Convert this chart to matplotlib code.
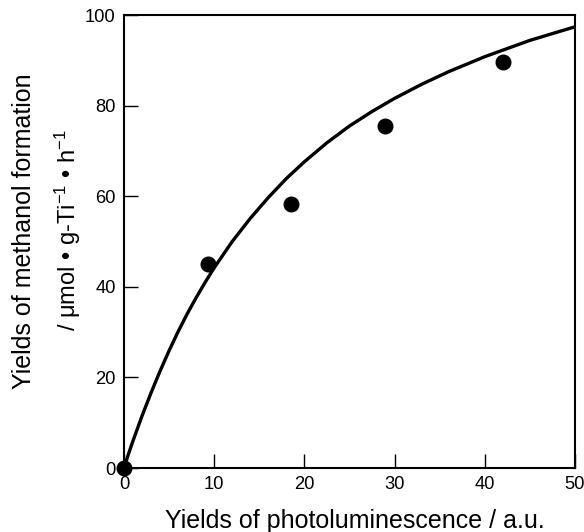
import numpy as np
import matplotlib
matplotlib.use("Agg")
from matplotlib import pyplot as plt

plt.rcParams["font.family"] = ["Liberation Sans", "DejaVu Sans"]
plt.rcParams["mathtext.fontset"] = "custom"
plt.rcParams["mathtext.rm"] = "Liberation Sans"
plt.rcParams["mathtext.it"] = "Liberation Sans:italic"

# measured points
pl_x = [0.0, 9.35, 18.5, 28.9, 42.0]
meoh_y = [0.0, 45.0, 58.2, 75.4, 89.6]

# fitted curve
curve_x = [0.0, 0.5, 1.0, 2.0, 3.0, 4.0, 5.0, 6.0, 7.0, 8.0, 9.0, 10.0, 12.0, 14.0,
           16.0, 18.0, 20.0, 22.5, 25.0, 27.5, 30.0, 33.0, 36.0, 40.0, 45.0, 50.0]
curve_y = [0.0, 3.1, 6.0, 11.5, 16.6, 21.4, 25.9, 30.1, 34.0, 37.6, 41.0, 44.2, 50.0, 55.1,
           59.7, 63.9, 67.6, 71.8, 75.5, 78.7, 81.6, 84.7, 87.5, 90.8, 94.4, 97.4]

fig = plt.figure(figsize=(5.84, 5.32), dpi=100)
ax = fig.add_axes([0.2123, 0.1203, 0.7723, 0.8515])

ax.plot(curve_x, curve_y, color="black", lw=2.4, solid_joinstyle="round",
        solid_capstyle="round", zorder=2)
ax.plot(pl_x, meoh_y, "o", color="black", ms=10.5, clip_on=False, zorder=3)

ax.set_xlim(0, 50)
ax.set_ylim(0, 100)
ax.set_xticks([0, 10, 20, 30, 40, 50])
ax.set_yticks([0, 20, 40, 60, 80, 100])
ax.tick_params(direction="in", length=10, width=1.0, labelsize=13.2, pad=6)
for s in ax.spines.values():
    s.set_linewidth(1.5)

fig.text(355 / 584, 1 - 521 / 532, "Yields of photoluminescence / a.u.",
         ha="center", va="center", fontsize=18)
fig.text(24 / 584, 1 - 231 / 532, "Yields of methanol formation", rotation=90,
         ha="center", va="center", fontsize=18)
fig.text(68 / 584, 1 - 230 / 532, "/ μmol • g-Ti$^{-1}$ • h$^{-1}$", rotation=90,
         ha="center", va="center", fontsize=17)

fig.savefig("out.png", dpi=100)
